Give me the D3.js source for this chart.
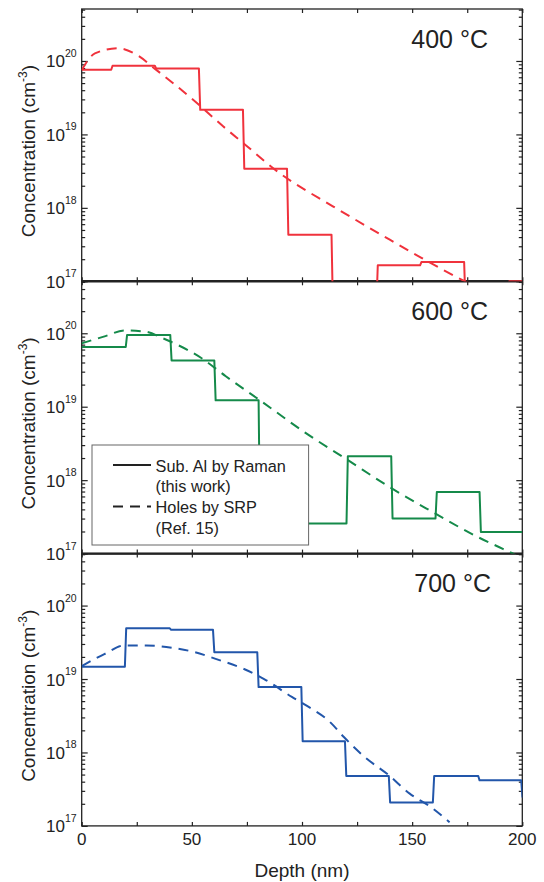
<!DOCTYPE html>
<html>
<head>
<meta charset="utf-8">
<title>Al depth profiles</title>
<style>
  body { margin: 0; background: #fff; }
  svg { display: block; font-family: "Liberation Sans", Arial, sans-serif; }
  .axis line { stroke: #222; stroke-width: 1.2; }
  .axis path { display: none; }
</style>
</head>
<body>
<div id="chart"></div>
<script src="https://d3js.org/d3.v7.min.js"></script>
<script>
// Raman: layer edges (nm) and substitutional Al (cm^-3), one value per layer
var edges400  = [0, 13.4, 33.2, 53.2, 73.2, 93.2, 113.4, 133.8, 153.6, 173.6, 193.5, 200];
var values400 = [7.6e19, 8.6e19, 7.9e19, 2.16e19, 3.4e18, 4.3e17, 5e16, 1.65e17, 1.83e17, 5e16, 1e17];

var edges600  = [0, 20, 40.2, 60.2, 80.3, 100, 120.2, 140.5, 160.6, 180.6, 200];
var values600 = [6.5e19, 9.5e19, 4.26e19, 1.22e19, 3e17, 2.57e17, 2.12e18, 3.0e17, 6.9e17, 1.97e17];

var edges700  = [0, 19.6, 40, 59.6, 79.7, 99.7, 119.5, 139.4, 159.4, 180, 199.5, 200];
var values700 = [1.47e19, 4.9e19, 4.67e19, 2.32e19, 7.76e18, 1.42e18, 4.78e17, 2.08e17, 4.78e17, 4.17e17, 2.45e17];

// SRP holes (Ref. 15)
var srpDepth400 = [0, 6, 16.6, 25, 34, 50.7, 64.3, 73.4, 89, 114, 136, 154, 174, 190];
var srpConc400  = [7.5e19, 1.27e20, 1.49e20, 1.21e20, 7.5e19, 2.95e19, 1.28e19, 7.6e18, 3.1e18, 1.05e18, 4.3e17, 2.1e17, 1.0e17, 6e16];

var srpDepth600 = [0, 10, 19.7, 29, 37, 54.3, 65.4, 82.7, 101.6, 120.5, 140.2, 159.9, 178.8, 191.4, 197, 205];
var srpConc600  = [7.3e19, 9.0e19, 1.09e20, 1.05e20, 8.5e19, 4.6e19, 2.6e19, 1.12e19, 4.4e18, 1.9e18, 7.9e17, 3.6e17, 1.74e17, 1.15e17, 9.5e16, 6e16];

var srpDepth700 = [0, 10.5, 19.2, 29.4, 42, 51.4, 60.8, 73.4, 82.8, 95.4, 101.7, 112.7, 119, 128.4, 139.4, 148.9, 158.3, 167];
var srpConc700  = [1.5e19, 2.2e19, 2.86e19, 2.86e19, 2.63e19, 2.32e19, 1.88e19, 1.38e19, 1.0e19, 5.7e18, 4.4e18, 2.6e18, 1.62e18, 8.7e17, 4.9e17, 2.75e17, 1.82e17, 1.12e17];

var panelLabels = ["400 \u00B0C", "600 \u00B0C", "700 \u00B0C"];
var xTicks = [0, 50, 100, 150, 200];
var yLabelTicks = [1e17, 1e18, 1e19, 1e20];
var legendLabels = [["Sub. Al by Raman", "(this work)"], ["Holes by SRP", "(Ref. 15)"]];

var panels = [
  { label: panelLabels[0], color: "#f0323c", edges: edges400, values: values400, sx: srpDepth400, sy: srpConc400, lx: 488 },
  { label: panelLabels[1], color: "#158a4a", edges: edges600, values: values600, sx: srpDepth600, sy: srpConc600, lx: 488 },
  { label: panelLabels[2], color: "#2256aa", edges: edges700, values: values700, sx: srpDepth700, sy: srpConc700, lx: 491 }
];

var W = 544, H = 882;
var left = 81.7, right = 522.3, top0 = 9, ph = 272.3;

var svg = d3.select("#chart").append("svg").attr("width", W).attr("height", H);
var axisLayer = svg.append("g");
var dataLayer = svg.append("g");
var textLayer = svg.append("g");

var x = d3.scaleLinear().domain([0, 200]).range([left, right]);

// minor ticks 2..9 x decade
var minor = [];
for (var d = 17; d <= 20; d++) {
  for (var k = 2; k <= 9; k++) {
    if (k * Math.pow(10, d) <= 5.1e20) minor.push(k * Math.pow(10, d));
  }
}
var xAll = d3.range(0, 201, 25);

function stepPoints(edges, values) {
  var pts = [];
  values.forEach(function(v, i) {
    pts.push([edges[i] + (i ? 0.6 : 0), v]);
    pts.push([edges[i + 1], v]);
  });
  return pts;
}

panels.forEach(function(p, i) {
  var t = top0 + i * ph, b = t + ph;
  var y = d3.scaleLog().domain([1e17, 5.1e20]).range([b, t]);
  var g = axisLayer.append("g");

  // ticks, all pointing inward
  g.append("g").attr("class", "axis").attr("transform", "translate(" + left + ",0)")
    .call(d3.axisLeft(y).tickValues(yLabelTicks).tickSize(-6).tickFormat(""));
  g.append("g").attr("class", "axis").attr("transform", "translate(" + left + ",0)")
    .call(d3.axisLeft(y).tickValues(minor).tickSize(-3.5).tickFormat(""));
  g.append("g").attr("class", "axis").attr("transform", "translate(" + right + ",0)")
    .call(d3.axisRight(y).tickValues(yLabelTicks).tickSize(-6).tickFormat(""));
  g.append("g").attr("class", "axis").attr("transform", "translate(" + right + ",0)")
    .call(d3.axisRight(y).tickValues(minor).tickSize(-3.5).tickFormat(""));
  g.append("g").attr("class", "axis").attr("transform", "translate(0," + t + ")")
    .call(d3.axisTop(x).tickValues(xAll).tickSize(-4).tickFormat(""));
  g.append("g").attr("class", "axis").attr("transform", "translate(0," + b + ")")
    .call(d3.axisBottom(x).tickValues(xAll).tickSize(-4).tickFormat(""));

  // frame
  g.append("rect").attr("x", left).attr("y", t).attr("width", right - left).attr("height", ph)
    .attr("fill", "none").attr("stroke", "#222").attr("stroke-width", 1.3);

  // y tick labels 10^n
  g.selectAll("text.ytl").data(yLabelTicks).enter().append("text")
    .attr("class", "ytl")
    .attr("x", left - 5).attr("y", function(v) { return y(v) + 6.5; })
    .attr("text-anchor", "end").attr("fill", "#222")
    .each(function(v) {
      var tx = d3.select(this);
      tx.append("tspan").attr("font-size", 17).text("10");
      tx.append("tspan").attr("font-size", 10.5).attr("dy", -10.5).text(Math.round(Math.log10(v)));
    });

  // y title
  var yt = g.append("text")
    .attr("transform", "translate(35," + (t + ph / 2 + 6) + ") rotate(-90)")
    .attr("text-anchor", "middle").attr("font-size", 19).attr("fill", "#222");
  yt.append("tspan").text("Concentration (cm");
  yt.append("tspan").attr("font-size", 12).attr("dy", -8).text("-3");
  yt.append("tspan").attr("dy", 8).text(")");

  // data, clipped to the panel
  svg.append("clipPath").attr("id", "clip" + i).append("rect")
    .attr("x", left).attr("y", t).attr("width", right - left).attr("height", ph);
  var dg = dataLayer.append("g").attr("clip-path", "url(#clip" + i + ")");

  var line = d3.line().x(function(q) { return x(q[0]); }).y(function(q) { return y(q[1]); });

  dg.append("path").datum(stepPoints(p.edges, p.values))
    .attr("d", line).attr("fill", "none").attr("stroke", p.color)
    .attr("stroke-width", 2).attr("stroke-linejoin", "round");

  var srp = p.sx.map(function(v, j) { return [v, p.sy[j]]; });
  dg.append("path").datum(srp)
    .attr("d", line.curve(d3.curveMonotoneX)).attr("fill", "none").attr("stroke", p.color)
    .attr("stroke-width", 2).attr("stroke-dasharray", "10,7");

  // temperature label
  textLayer.append("text").attr("x", p.lx).attr("y", t + 38.5)
    .attr("text-anchor", "end").attr("font-size", 25).attr("fill", "#222").text(p.label);
});

// heavier shared boundaries between panels
[1, 2].forEach(function(i) {
  axisLayer.append("line").attr("x1", left).attr("x2", right)
    .attr("y1", top0 + i * ph).attr("y2", top0 + i * ph)
    .attr("stroke", "#222").attr("stroke-width", 2.4);
});

// x tick labels and title
var bottom = top0 + 3 * ph;
textLayer.selectAll("text.xtl").data(xTicks).enter().append("text")
  .attr("class", "xtl").attr("x", function(v) { return x(v); }).attr("y", bottom + 19.5)
  .attr("text-anchor", "middle").attr("font-size", 17).attr("fill", "#222").text(function(v) { return v; });

textLayer.append("text").attr("x", (left + right) / 2).attr("y", 877)
  .attr("text-anchor", "middle").attr("font-size", 19).attr("fill", "#222").text("Depth (nm)");

// legend (sits in the 600 C panel)
var lg = textLayer.append("g");
lg.append("rect").attr("x", 92).attr("y", 445).attr("width", 216.6).attr("height", 100)
  .attr("fill", "#fff").attr("stroke", "#666").attr("stroke-width", 1);
var dashes = [null, "10,7"];
legendLabels.forEach(function(lab, k) {
  var ly = 465 + k * 41.5;
  lg.append("line").attr("x1", 113).attr("x2", 151).attr("y1", ly).attr("y2", ly)
    .attr("stroke", "#222").attr("stroke-width", 2).attr("stroke-dasharray", dashes[k]);
  lab.forEach(function(s, m) {
    lg.append("text").attr("x", 155.6).attr("y", ly + 6.5 + m * 20.5)
      .attr("font-size", 16.3).attr("fill", "#222").text(s);
  });
});
</script>
</body>
</html>
